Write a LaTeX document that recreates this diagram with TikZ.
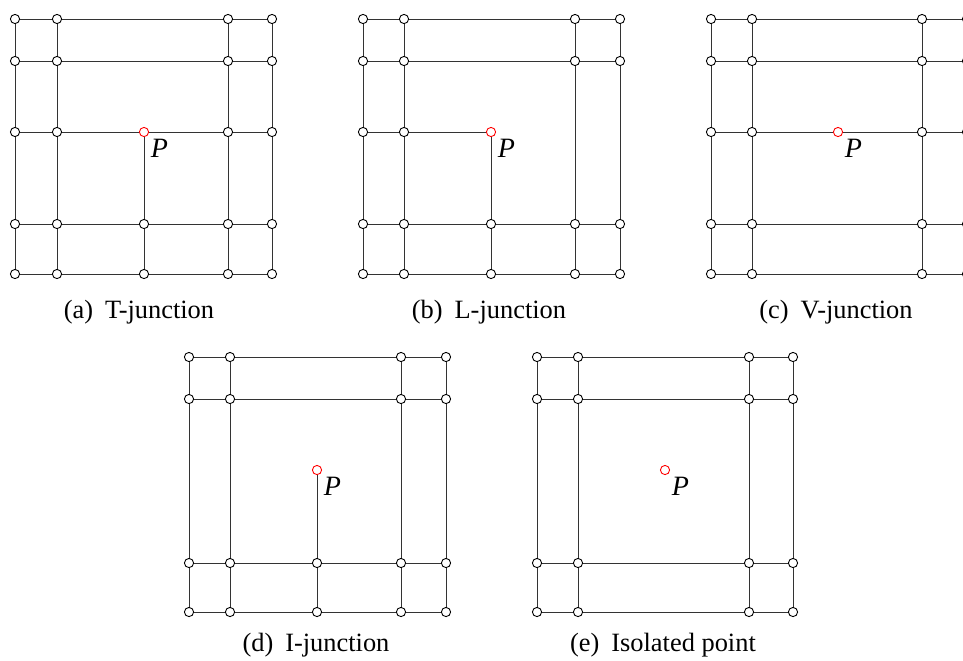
\documentclass[tikz,border=0pt]{standalone}
\usepackage{fontspec}
\setmainfont{Liberation Serif}
\usepackage{tikz}

\begin{document}
\begin{tikzpicture}[x=0.5pt, y=-0.5pt,
    vtx/.style={circle, draw, fill=white, inner sep=0pt, minimum size=4.6pt, line width=0.45pt},
    ctr/.style={vtx, draw=red},
    edge/.style={line width=0.5pt, black!80},
    plbl/.style={anchor=north west, inner sep=1.4pt, font=\fontsize{14}{15}\selectfont\itshape},
    capt/.style={anchor=base, inner sep=0pt, font=\fontsize{13.2}{15}\selectfont}]
    \useasboundingbox (0,0) rectangle (963,660);

    % (a) T-junction
    \foreach \c/\x in {1/15,2/57,4/228,5/272}
      \foreach \r/\y in {1/19,2/61,3/132,4/224,5/274}
        \node[vtx] (a\c\r) at (\x,\y) {};
    \foreach \r/\y in {4/224,5/274}
      \node[vtx] (a3\r) at (144,\y) {};
    \node[ctr] (a33) at (144,132) {};
    \node[plbl] (aP) at (a33.south east) {P};
    \foreach \r in {1,2}
      \draw[edge] (a1\r) -- (a2\r) -- (a4\r) -- (a5\r);
    \foreach \r in {3,4,5}
      \draw[edge] (a1\r) -- (a2\r) -- (a3\r) -- (a4\r) -- (a5\r);
    \foreach \c in {1,2,4,5}
      \draw[edge] (a\c1) -- (a\c2) -- (a\c3) -- (a\c4) -- (a\c5);
    \draw[edge] (a33) -- (a34) -- (a35);
    \node[capt] (acap) at (139,318) {(a)\hspace{0.45em}T-junction};

    % (b) L-junction
    \foreach \c/\x in {1/363,2/404}
      \foreach \r/\y in {1/19,2/61,3/132,4/224,5/274}
        \node[vtx] (b\c\r) at (\x,\y) {};
    \foreach \c/\x in {4/575,5/620}
      \foreach \r/\y in {1/19,2/61,4/224,5/274}
        \node[vtx] (b\c\r) at (\x,\y) {};
    \foreach \r/\y in {4/224,5/274}
      \node[vtx] (b3\r) at (491,\y) {};
    \node[ctr] (b33) at (491,132) {};
    \node[plbl] (bP) at (b33.south east) {P};
    \foreach \r in {1,2}
      \draw[edge] (b1\r) -- (b2\r) -- (b4\r) -- (b5\r);
    \draw[edge] (b13) -- (b23) -- (b33);
    \foreach \r in {4,5}
      \draw[edge] (b1\r) -- (b2\r) -- (b3\r) -- (b4\r) -- (b5\r);
    \foreach \c in {1,2}
      \draw[edge] (b\c1) -- (b\c2) -- (b\c3) -- (b\c4) -- (b\c5);
    \foreach \c in {4,5}
      \draw[edge] (b\c1) -- (b\c2) -- (b\c4) -- (b\c5);
    \draw[edge] (b33) -- (b34) -- (b35);
    \node[capt] (bcap) at (489,318) {(b)\hspace{0.45em}L-junction};

    % (c) V-junction
    \foreach \c/\x in {1/711,2/752,4/922,5/967}
      \foreach \r/\y in {1/19,2/61,3/132,4/224,5/274}
        \node[vtx] (c\c\r) at (\x,\y) {};
    \node[ctr] (c33) at (838,132) {};
    \node[plbl] (cP) at (c33.south east) {P};
    \foreach \r in {1,2,4,5}
      \draw[edge] (c1\r) -- (c2\r) -- (c4\r) -- (c5\r);
    \draw[edge] (c13) -- (c23) -- (c33) -- (c43) -- (c53);
    \foreach \c in {1,2,4,5}
      \draw[edge] (c\c1) -- (c\c2) -- (c\c3) -- (c\c4) -- (c\c5);
    \node[capt] (ccap) at (836,318) {(c)\hspace{0.45em}V-junction};

    % (d) I-junction
    \foreach \c/\x in {1/189,2/230,4/401,5/446}
      \foreach \r/\y in {1/357,2/399,4/563,5/612}
        \node[vtx] (d\c\r) at (\x,\y) {};
    \foreach \r/\y in {4/563,5/612}
      \node[vtx] (d3\r) at (317,\y) {};
    \node[ctr] (d33) at (317,470) {};
    \node[plbl] (dP) at (d33.south east) {P};
    \foreach \r in {1,2}
      \draw[edge] (d1\r) -- (d2\r) -- (d4\r) -- (d5\r);
    \foreach \r in {4,5}
      \draw[edge] (d1\r) -- (d2\r) -- (d3\r) -- (d4\r) -- (d5\r);
    \foreach \c in {1,2,4,5}
      \draw[edge] (d\c1) -- (d\c2) -- (d\c4) -- (d\c5);
    \draw[edge] (d33) -- (d34) -- (d35);
    \node[capt] (dcap) at (316,651) {(d)\hspace{0.45em}I-junction};

    % (e) Isolated point
    \foreach \c/\x in {1/537,2/578,4/749,5/793}
      \foreach \r/\y in {1/357,2/399,4/563,5/612}
        \node[vtx] (e\c\r) at (\x,\y) {};
    \node[ctr] (e33) at (665,470) {};
    \node[plbl] (eP) at (e33.south east) {P};
    \foreach \r in {1,2,4,5}
      \draw[edge] (e1\r) -- (e2\r) -- (e4\r) -- (e5\r);
    \foreach \c in {1,2,4,5}
      \draw[edge] (e\c1) -- (e\c2) -- (e\c4) -- (e\c5);
    \node[capt] (ecap) at (663,651) {(e)\hspace{0.45em}Isolated point};
  \end{tikzpicture}
\end{document}
